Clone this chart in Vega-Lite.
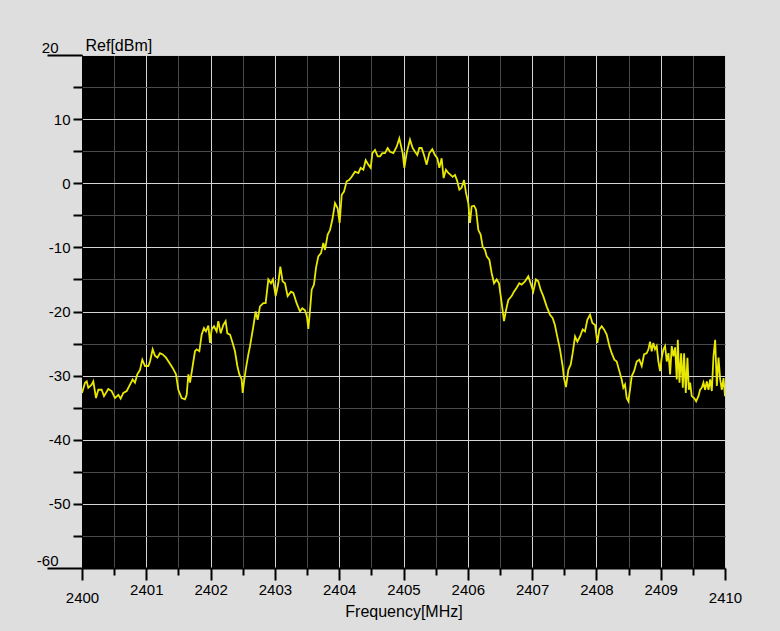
{
  "$schema": "https://vega.github.io/schema/vega-lite/v6.json",
  "width": 643,
  "height": 513,
  "autosize": {"type": "none"},
  "padding": {"left": 82, "top": 55, "right": 55, "bottom": 63},
  "background": "#dedede",
  "config": {
    "view": {"fill": "#000000", "stroke": null},
    "axis": {"labelFont": "Liberation Sans", "labelColor": "#000000", "titleFont": "Liberation Sans", "titleColor": "#000000", "titleFontWeight": "normal", "domainColor": "#000000", "tickColor": "#000000", "labelOverlap": false, "labelFlush": false, "gridWidth": 1}
  },
  "data": {"values": [
    {"f":2400.000,"p":-32.7},{"f":2400.047,"p":-31.1},{"f":2400.073,"p":-30.9},{"f":2400.098,"p":-31.9},{"f":2400.150,"p":-31.4},{"f":2400.176,"p":-30.9},{"f":2400.218,"p":-33.5},{"f":2400.254,"p":-32.2},{"f":2400.306,"p":-32.2},{"f":2400.342,"p":-33.2},{"f":2400.409,"p":-32.1},{"f":2400.461,"p":-32.4},{"f":2400.513,"p":-33.5},{"f":2400.565,"p":-33.0},{"f":2400.601,"p":-33.6},{"f":2400.643,"p":-32.7},{"f":2400.695,"p":-32.4},{"f":2400.746,"p":-31.4},{"f":2400.788,"p":-30.6},{"f":2400.824,"p":-31.1},{"f":2400.860,"p":-29.8},{"f":2400.902,"p":-29.1},{"f":2400.938,"p":-27.5},{"f":2400.980,"p":-28.5},{"f":2401.032,"p":-28.5},{"f":2401.058,"p":-27.8},{"f":2401.099,"p":-25.9},{"f":2401.135,"p":-26.9},{"f":2401.172,"p":-27.2},{"f":2401.213,"p":-26.5},{"f":2401.255,"p":-26.7},{"f":2401.306,"p":-27.2},{"f":2401.358,"p":-28.0},{"f":2401.410,"p":-28.8},{"f":2401.462,"p":-29.8},{"f":2401.498,"p":-32.2},{"f":2401.550,"p":-33.5},{"f":2401.602,"p":-33.7},{"f":2401.628,"p":-33.0},{"f":2401.654,"p":-29.8},{"f":2401.680,"p":-31.1},{"f":2401.721,"p":-28.5},{"f":2401.757,"p":-26.2},{"f":2401.783,"p":-25.9},{"f":2401.825,"p":-26.2},{"f":2401.861,"p":-23.6},{"f":2401.897,"p":-22.6},{"f":2401.928,"p":-23.1},{"f":2401.965,"p":-22.2},{"f":2401.991,"p":-24.9},{"f":2402.017,"p":-22.8},{"f":2402.053,"p":-22.3},{"f":2402.094,"p":-23.1},{"f":2402.120,"p":-21.5},{"f":2402.157,"p":-23.4},{"f":2402.198,"p":-22.1},{"f":2402.234,"p":-21.5},{"f":2402.260,"p":-23.4},{"f":2402.302,"p":-23.6},{"f":2402.343,"p":-24.9},{"f":2402.379,"p":-26.2},{"f":2402.416,"p":-28.5},{"f":2402.447,"p":-29.8},{"f":2402.483,"p":-30.6},{"f":2402.499,"p":-32.7},{"f":2402.520,"p":-30.9},{"f":2402.551,"p":-28.8},{"f":2402.587,"p":-26.7},{"f":2402.613,"p":-25.4},
    {"f":2402.665,"p":-22.3},{"f":2402.701,"p":-20.0},{"f":2402.732,"p":-21.3},{"f":2402.768,"p":-19.2},{"f":2402.820,"p":-18.7},{"f":2402.856,"p":-18.7},{"f":2402.898,"p":-15.0},{"f":2402.939,"p":-15.6},{"f":2402.970,"p":-15.0},{"f":2403.012,"p":-17.6},{"f":2403.053,"p":-15.6},{"f":2403.084,"p":-13.0},{"f":2403.120,"p":-15.3},{"f":2403.157,"p":-15.6},{"f":2403.198,"p":-17.6},{"f":2403.250,"p":-16.9},{"f":2403.287,"p":-17.1},{"f":2403.338,"p":-18.7},{"f":2403.390,"p":-20.0},{"f":2403.426,"p":-19.5},{"f":2403.468,"p":-19.8},{"f":2403.499,"p":-20.8},{"f":2403.520,"p":-22.7},{"f":2403.551,"p":-19.2},{"f":2403.572,"p":-16.6},{"f":2403.608,"p":-15.8},{"f":2403.639,"p":-13.2},{"f":2403.675,"p":-11.4},{"f":2403.717,"p":-10.9},{"f":2403.753,"p":-9.3},{"f":2403.779,"p":-10.4},{"f":2403.821,"p":-8.0},{"f":2403.857,"p":-7.3},{"f":2403.893,"p":-5.7},{"f":2403.935,"p":-3.1},{"f":2403.976,"p":-3.9},{"f":2404.007,"p":-6.2},{"f":2404.039,"p":-1.8},{"f":2404.075,"p":-1.3},{"f":2404.116,"p":0.3},{"f":2404.153,"p":0.5},{"f":2404.194,"p":1.0},{"f":2404.246,"p":1.8},{"f":2404.298,"p":1.6},{"f":2404.334,"p":2.4},{"f":2404.376,"p":2.1},{"f":2404.412,"p":3.6},{"f":2404.453,"p":2.9},{"f":2404.490,"p":2.4},{"f":2404.516,"p":4.7},{"f":2404.557,"p":5.2},{"f":2404.599,"p":4.2},{"f":2404.635,"p":4.2},{"f":2404.671,"p":4.7},{"f":2404.712,"p":4.7},{"f":2404.754,"p":5.5},{"f":2404.790,"p":4.9},{"f":2404.842,"p":4.7},{"f":2404.894,"p":5.7},{"f":2404.935,"p":7.0},
    {"f":2404.987,"p":4.7},{"f":2405.013,"p":2.4},{"f":2405.049,"p":4.7},{"f":2405.101,"p":6.8},{"f":2405.142,"p":5.5},{"f":2405.179,"p":4.9},{"f":2405.215,"p":4.4},{"f":2405.246,"p":5.5},{"f":2405.282,"p":5.5},{"f":2405.319,"p":4.4},{"f":2405.360,"p":2.9},{"f":2405.401,"p":4.7},{"f":2405.448,"p":5.3},{"f":2405.489,"p":4.4},{"f":2405.526,"p":3.9},{"f":2405.557,"p":2.4},{"f":2405.593,"p":3.9},{"f":2405.624,"p":0.8},{"f":2405.660,"p":2.1},{"f":2405.697,"p":1.6},{"f":2405.733,"p":1.3},{"f":2405.764,"p":1.0},{"f":2405.801,"p":1.3},{"f":2405.837,"p":0.3},{"f":2405.868,"p":-1.0},{"f":2405.904,"p":-0.7},{"f":2405.941,"p":0.5},{"f":2405.972,"p":-1.5},{"f":2406.008,"p":-3.1},{"f":2406.034,"p":-6.2},{"f":2406.060,"p":-3.6},{"f":2406.097,"p":-3.5},{"f":2406.128,"p":-4.1},{"f":2406.164,"p":-7.3},{"f":2406.200,"p":-8.0},{"f":2406.231,"p":-9.9},{"f":2406.268,"p":-10.4},{"f":2406.294,"p":-11.4},{"f":2406.335,"p":-11.9},{"f":2406.371,"p":-14.0},{"f":2406.408,"p":-15.6},{"f":2406.449,"p":-15.0},{"f":2406.485,"p":-15.6},{"f":2406.527,"p":-18.7},{"f":2406.563,"p":-21.5},{"f":2406.594,"p":-19.8},{"f":2406.630,"p":-18.2},{"f":2406.682,"p":-17.6},{"f":2406.718,"p":-16.9},{"f":2406.760,"p":-16.3},{"f":2406.801,"p":-15.6},{"f":2406.837,"p":-15.8},{"f":2406.889,"p":-15.3},{"f":2406.941,"p":-14.5},{"f":2406.977,"p":-15.6},{"f":2407.018,"p":-16.9},{"f":2407.060,"p":-15.0},{"f":2407.096,"p":-15.3},{"f":2407.132,"p":-16.6},{"f":2407.174,"p":-17.6},{"f":2407.226,"p":-19.2},{"f":2407.278,"p":-20.5},{"f":2407.319,"p":-21.0},{"f":2407.355,"p":-22.1},{"f":2407.381,"p":-23.4},
    {"f":2407.434,"p":-25.9},{"f":2407.475,"p":-28.5},{"f":2407.496,"p":-30.4},{"f":2407.527,"p":-31.8},{"f":2407.564,"p":-29.1},{"f":2407.600,"p":-28.3},{"f":2407.631,"p":-26.5},{"f":2407.668,"p":-23.9},{"f":2407.704,"p":-24.7},{"f":2407.745,"p":-23.9},{"f":2407.787,"p":-22.8},{"f":2407.823,"p":-23.1},{"f":2407.859,"p":-21.3},{"f":2407.901,"p":-20.5},{"f":2407.937,"p":-21.8},{"f":2407.979,"p":-22.1},{"f":2408.015,"p":-24.9},{"f":2408.046,"p":-22.8},{"f":2408.083,"p":-22.3},{"f":2408.119,"p":-22.8},{"f":2408.160,"p":-23.6},{"f":2408.202,"p":-25.4},{"f":2408.238,"p":-26.5},{"f":2408.279,"p":-27.5},{"f":2408.316,"p":-27.8},{"f":2408.357,"p":-29.3},{"f":2408.393,"p":-30.6},{"f":2408.419,"p":-31.9},{"f":2408.445,"p":-31.4},{"f":2408.471,"p":-33.5},{"f":2408.497,"p":-34.0},{"f":2408.523,"p":-32.2},{"f":2408.549,"p":-30.1},{"f":2408.586,"p":-29.3},{"f":2408.627,"p":-27.8},{"f":2408.668,"p":-27.5},{"f":2408.705,"p":-28.5},{"f":2408.741,"p":-26.7},{"f":2408.783,"p":-26.5},{"f":2408.809,"p":-25.9},{"f":2408.834,"p":-24.7},{"f":2408.860,"p":-26.2},{"f":2408.886,"p":-24.9},{"f":2408.912,"p":-25.9},{"f":2408.938,"p":-25.4},{"f":2408.964,"p":-27.8},{"f":2408.990,"p":-29.3},{"f":2409.016,"p":-27.2},{"f":2409.042,"p":-25.9},{"f":2409.068,"p":-25.4},{"f":2409.094,"p":-27.8},{"f":2409.120,"p":-26.5},{"f":2409.146,"p":-29.8},{"f":2409.172,"p":-25.4},{"f":2409.198,"p":-27.0},{"f":2409.224,"p":-25.6},{"f":2409.250,"p":-30.6},{"f":2409.266,"p":-24.4},{"f":2409.292,"p":-31.1},{"f":2409.318,"p":-26.5},{"f":2409.344,"p":-31.9},{"f":2409.364,"p":-26.5},{"f":2409.390,"p":-32.7},{"f":2409.416,"p":-27.2},{"f":2409.437,"p":-32.2},{"f":2409.457,"p":-31.1},{"f":2409.483,"p":-33.2},{"f":2409.520,"p":-33.5},{"f":2409.551,"p":-34.0},{"f":2409.587,"p":-33.2},{"f":2409.613,"p":-32.2},{"f":2409.639,"p":-31.9},{"f":2409.665,"p":-31.1},{"f":2409.691,"p":-32.2},{"f":2409.717,"p":-30.9},{"f":2409.743,"p":-32.2},{"f":2409.769,"p":-30.6},{"f":2409.795,"p":-32.4},{"f":2409.821,"p":-27.0},{"f":2409.847,"p":-24.4},{"f":2409.873,"p":-31.6},{"f":2409.899,"p":-27.2},{"f":2409.925,"p":-30.6},{"f":2409.951,"p":-32.2},{"f":2409.977,"p":-30.4},{"f":2410.000,"p":-33.2}
  ]},
  "mark": {"type": "line", "color": "#e8e800", "strokeWidth": 1.8, "clip": true},
  "encoding": {
    "x": {
      "field": "f", "type": "quantitative",
      "scale": {"domain": [2400, 2410], "nice": false, "zero": false},
      "axis": {
        "title": "Frequency[MHz]", "titleFontSize": 16, "titlePadding": -2,
        "values": [2400, 2400.5, 2401, 2401.5, 2402, 2402.5, 2403, 2403.5, 2404, 2404.5, 2405, 2405.5, 2406, 2406.5, 2407, 2407.5, 2408, 2408.5, 2409, 2409.5, 2410],
        "labelExpr": "datum.value % 1 === 0 ? '' + datum.value : ''",
        "labelFontSize": 15,
        "grid": true,
        "gridColor": {"condition": {"test": "datum.value % 1 === 0", "value": "#d4d4d4"}, "value": "#4a4a4a"},
        "tickWidth": 2,
        "tickSize": {"condition": {"test": "datum.value % 1 === 0", "value": 12}, "value": 7},
        "labelPadding": {"condition": {"test": "datum.value === 2400 || datum.value === 2410", "value": 10}, "value": 2},
        "domainWidth": 2
      }
    },
    "y": {
      "field": "p", "type": "quantitative",
      "scale": {"domain": [-60, 20], "nice": false, "zero": false},
      "axis": {
        "title": "Ref[dBm]",
        "titleAngle": 0,
        "titleAlign": "left",
        "titleBaseline": "bottom",
        "titleFontSize": 16,
        "titleX": 3,
        "titleY": -2,
        "values": [-60, -55, -50, -45, -40, -35, -30, -25, -20, -15, -10, -5, 0, 5, 10, 15, 20],
        "labelExpr": "datum.value % 10 === 0 ? '' + datum.value : ''",
        "labelFontSize": 15,
        "grid": true,
        "gridColor": {"condition": {"test": "datum.value % 10 === 0", "value": "#d4d4d4"}, "value": "#4a4a4a"},
        "tickWidth": 2,
        "tickSize": {"condition": {"test": "datum.value === 20 || datum.value === -60", "value": 35}, "value": 9},
        "labelPadding": {"condition": {"test": "datum.value === 20 || datum.value === -60", "value": -11}, "value": 3},
        "labelBaseline": {"condition": {"test": "datum.value === 20 || datum.value === -60", "value": "bottom"}, "value": "middle"},
        "domainWidth": 1
      }
    }
  }
}
